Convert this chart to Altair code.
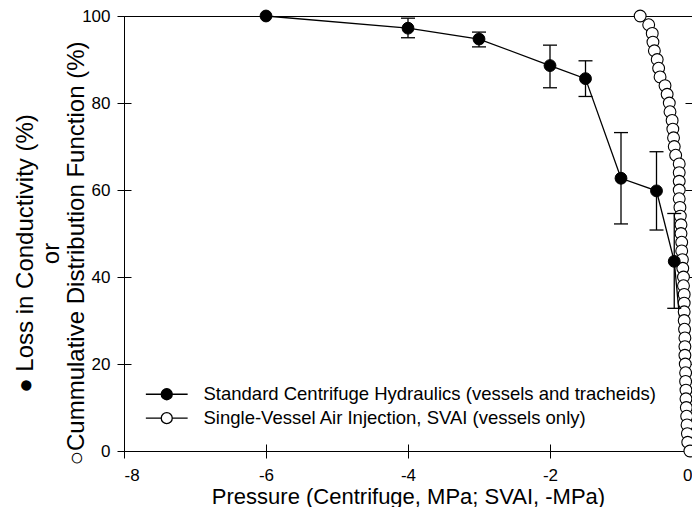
import altair as alt
import pandas as pd

SERIES = ["Standard Centrifuge Hydraulics (vessels and tracheids)",
          "Single-Vessel Air Injection, SVAI (vessels only)"]

# Standard centrifuge hydraulics (filled circles)
cent_x = [-6, -4, -3, -2, -1.5, -1, -0.5, -0.25, 0]
cent_y = [100, 97.2, 94.7, 88.6, 85.6, 62.7, 59.8, 43.6, 0]

# error bars
err_x = [-4, -3, -2, -1.5, -1, -0.5, -0.25]
err_lo = [95.0, 92.9, 83.5, 81.5, 52.2, 50.8, 32.8]
err_hi = [99.5, 96.3, 93.3, 89.7, 73.2, 68.8, 54.6]

# SVAI cumulative distribution (open circles)
svai_x = [-0.73, -0.61, -0.56, -0.55, -0.53, -0.49, -0.47, -0.45, -0.38, -0.35,
          -0.32, -0.31, -0.28, -0.27, -0.26, -0.25, -0.23, -0.18, -0.18, -0.18,
          -0.18, -0.18, -0.17, -0.165, -0.155, -0.155, -0.145, -0.145, -0.135, -0.13,
          -0.12, -0.12, -0.11, -0.11, -0.11, -0.11, -0.105, -0.10, -0.10, -0.10,
          -0.095, -0.09, -0.09, -0.085, -0.085, -0.08, -0.075, -0.07, -0.065, -0.06,
          -0.03]
svai_y = [100, 98, 96, 94, 92, 90, 88, 86, 84, 82,
          80, 78, 76, 74, 72, 70, 68, 66, 64, 62,
          60, 58, 56, 54, 52, 50, 48, 46, 44, 42,
          40, 38, 36, 34, 32, 30, 28, 26, 24, 22,
          20, 18, 16, 14, 12, 10, 8, 6, 4, 2,
          0]

x_ticks = [-8, -6, -4, -2, 0]
y_ticks = [0, 20, 40, 60, 80, 100]
x_title = "Pressure (Centrifuge, MPa; SVAI, -MPa)"
y_title = ["\u25cf Loss in Conductivity (%)", "or", "\u25cbCummulative Distribution Function (%)"]

df_cent = pd.DataFrame({"x": cent_x, "y": cent_y, "series": SERIES[0]})
df_err = pd.DataFrame({"x": err_x, "lo": err_lo, "hi": err_hi})
df_svai = pd.DataFrame({"x": svai_x, "y": svai_y, "series": SERIES[1]})

xs = alt.Scale(domain=[-8, 0], nice=False, zero=False)
ys = alt.Scale(domain=[0, 100], nice=False, zero=False)
fill_scale = alt.Scale(domain=SERIES, range=["black", "white"])

SYM = "M-3.8,0L-1,0M1,0L3.8,0M-1,0A1,1,0,1,0,1,0A1,1,0,1,0,-1,0Z"
legend = alt.Legend(title=None, orient="none", legendX=33.5, legendY=369,
                    symbolType=SYM, symbolSize=121, symbolStrokeColor="black",
                    symbolStrokeWidth=1.3, labelFontSize=18.5, labelColor="black",
                    labelOffset=27.5, labelLimit=800, rowPadding=4.9, padding=0)

main_x_axis = alt.Axis(values=x_ticks, orient="bottom", title=x_title, tickSize=7,
                       labelPadding=9, labelFontSize=17, labelExpr="'' + datum.value",
                       titleFontSize=22, titleY=52, titleBaseline="alphabetic",
                       grid=False)
main_y_axis = alt.Axis(values=y_ticks, orient="left", title=y_title, tickSize=7,
                       labelPadding=7, labelFontSize=17, titleFontSize=24,
                       titleX=-98.5, titleY=237, titleAngle=270, titleAlign="center",
                       titleBaseline="middle", titleLineHeight=25.5, grid=False)
in_x_axis = alt.Axis(values=x_ticks, orient="bottom", offset=-7, tickSize=7,
                     domain=False, labels=False, title=None, grid=False)
in_y_axis = alt.Axis(values=y_ticks, orient="left", offset=-7, tickSize=7,
                     domain=False, labels=False, title=None, grid=False)
right_axis = alt.Axis(values=y_ticks, orient="right", offset=-7, tickSize=7,
                      domain=False, labels=False, title=None, grid=False)

line_layer = alt.Chart(df_cent).mark_line(color="black", strokeWidth=1.3).encode(
    x=alt.X("x:Q", scale=xs, axis=in_x_axis),
    y=alt.Y("y:Q", scale=ys, axis=in_y_axis),
)

svai_layer = alt.Chart(df_svai).mark_point(
    filled=True, stroke="black", strokeWidth=1.1, size=140, opacity=1
).encode(
    x=alt.X("x:Q", scale=xs, axis=main_x_axis),
    y=alt.Y("y:Q", scale=ys, axis=main_y_axis),
    fill=alt.Fill("series:N", scale=fill_scale, legend=legend),
)

rule_layer = alt.Chart(df_err).mark_rule(color="black", strokeWidth=1.3).encode(
    x=alt.X("x:Q", scale=xs, axis=None),
    y=alt.Y("lo:Q", scale=ys, axis=right_axis),
    y2="hi:Q",
)

cap_layer = alt.Chart(df_err).transform_fold(["lo", "hi"], as_=["k", "v"]).mark_tick(
    orient="horizontal", size=14, thickness=1.3, color="black", opacity=1
).encode(
    x=alt.X("x:Q", scale=xs, axis=None),
    y=alt.Y("v:Q", scale=ys, axis=None),
)

pt_layer = alt.Chart(df_cent).transform_filter("datum.y > 0").mark_point(
    filled=True, stroke="black", strokeWidth=1, size=140, opacity=1
).encode(
    x=alt.X("x:Q", scale=xs, axis=None),
    y=alt.Y("y:Q", scale=ys, axis=None),
    fill=alt.Fill("series:N", scale=fill_scale, legend=legend),
)

chart = alt.layer(line_layer, svai_layer, rule_layer, cap_layer, pt_layer).resolve_axis(
    x="independent", y="independent"
).properties(
    width=568, height=435,
    autosize=alt.AutoSizeParams(type="none"),
    padding={"left": 116, "top": 8, "right": 0, "bottom": 56},
).configure(font="Liberation Sans").configure_view(
    stroke="black", strokeWidth=1
).configure_axis(
    labelColor="black", titleColor="black", tickColor="black", domainColor="black",
    tickWidth=1, domainWidth=1, titleFontWeight="normal"
)

chart.save("out.html", embed_options={"renderer": "svg", "actions": False})
